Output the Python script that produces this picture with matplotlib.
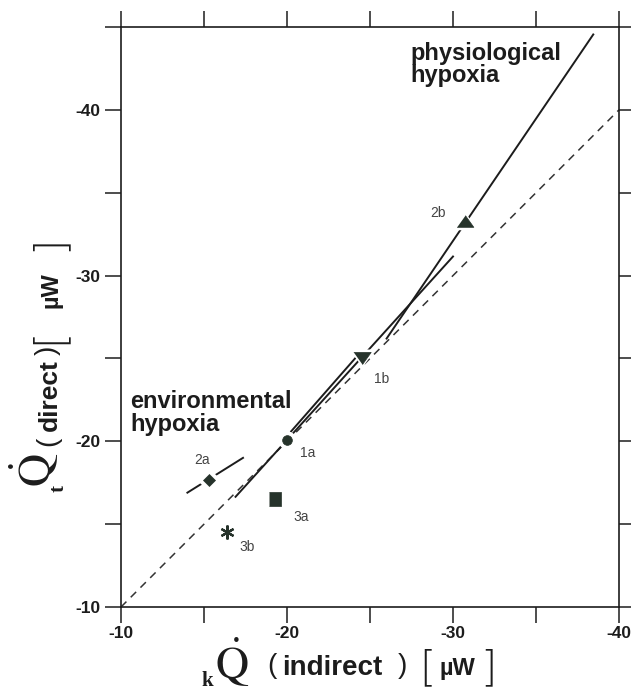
import matplotlib
matplotlib.use('Agg')
import matplotlib.pyplot as plt

W, H, DPI = 631, 691, 100

# ---------------- data ----------------
x_ticks = [-10, -15, -20, -25, -30, -35, -40]
y_ticks = [-10, -15, -20, -25, -30, -35, -40, -45]
labeled_ticks = [-10, -20, -30, -40]

identity_x = [-10, -40]
identity_y = [-10, -40]

# regression line of experiment 1 (through 1a and 1b)
line1_x = [-16.9, -30.0]
line1_y = [-16.65, -31.15]
# short segment 1a -> 1b
seg1_x = [-20.25, -24.1]
seg1_y = [-20.6, -25.0]
# physiological hypoxia line
phys_x = [-26.0, -38.45]
phys_y = [-26.2, -44.55]
# environmental hypoxia line (through 2a)
env_x = [-14.0, -17.35]
env_y = [-16.9, -19.0]

pt_names = ['1a', '1b', '2a', '2b', '3a', '3b']
pt_x = [-20.0, -24.5, -15.3, -30.7, -19.3, -16.4]
pt_y = [-20.1, -25.05, -17.65, -33.3, -16.5, -14.5]
lab_x = [-21.27, -25.7, -14.86, -29.1, -20.88, -17.57]
lab_y = [-19.28, -23.78, -18.86, -33.8, -15.44, -13.63]

# ---------------- figure ----------------
fig = plt.figure(figsize=(W / DPI, H / DPI), dpi=DPI)
fig.patch.set_facecolor('white')


def P(px, py):
    return (px / W, 1 - py / H)


l, r, t, b = 121, 619, 27, 607
ax = fig.add_axes([l / W, (H - b) / H, (r - l) / W, (b - t) / H])
ax.set_xlim(-10, -40)
ax.set_ylim(-10, -45)

ink = '#1c1c1c'
for s in ax.spines.values():
    s.set_linewidth(1.2)
    s.set_color(ink)


def fmt(v):
    return f'{v:d}' if v in labeled_ticks else ''


ax.set_xticks(x_ticks)
ax.set_yticks(y_ticks)
ax.set_xticklabels([fmt(v) for v in x_ticks])
ax.set_yticklabels([fmt(v) for v in y_ticks])
ax.tick_params(which='both', direction='out', length=11.5, width=1.1, color=ink,
               top=True, right=True, labeltop=False, labelright=False)
ax.tick_params(axis='x', pad=2)
ax.tick_params(axis='y', pad=3)
for lab in ax.get_xticklabels() + ax.get_yticklabels():
    lab.set_fontfamily('Liberation Sans')
    lab.set_fontweight('bold')
    lab.set_fontsize(12.5)
    lab.set_color(ink)

# lines
ax.plot(identity_x, identity_y, color='#333333', lw=1.1, ls=(0, (5, 4)), zorder=2)
ax.plot(line1_x, line1_y, color=ink, lw=1.4, zorder=3)
ax.plot(seg1_x, seg1_y, color=ink, lw=1.4, zorder=3)
ax.plot(phys_x, phys_y, color=ink, lw=1.4, zorder=3)
ax.plot(env_x, env_y, color=ink, lw=1.4, zorder=3)

# markers
mcol = '#26332b'
tri_up = [(-1, -0.7), (1, -0.7), (0, 0.7)]
tri_dn = [(-1, 0.7), (1, 0.7), (0, -0.7)]
rect = [(-0.42, -0.5), (0.42, -0.5), (0.42, 0.5), (-0.42, 0.5)]
styles = {
    '1a': dict(marker='o', ms=7),
    '1b': dict(marker=tri_dn, ms=12.5),
    '2a': dict(marker='D', ms=6),
    '2b': dict(marker=tri_up, ms=12),
    '3a': dict(marker=rect, ms=9.5),
    '3b': dict(marker=(6, 2, 0), ms=10),
}
for name, x, y in zip(pt_names, pt_x, pt_y):
    st = styles[name]
    if name == '3b':
        ax.plot([x], [y], linestyle='none', marker=st['marker'], ms=st['ms'],
                mec=mcol, mew=1.6, zorder=6)
        continue
    ax.plot([x], [y], linestyle='none', marker=st['marker'], ms=st['ms'] + 6,
            mfc='white', mec='white', mew=0, zorder=5)
    ax.plot([x], [y], linestyle='none', marker=st['marker'], ms=st['ms'],
            mfc=mcol, mec=mcol, mew=0.5, zorder=6)

for name, x, y in zip(pt_names, lab_x, lab_y):
    ax.text(x, y, name, ha='center', va='center', fontsize=10,
            family='Liberation Sans', color='#444444', zorder=7)

# region annotations
bold = dict(family='Liberation Sans', fontweight='bold', fontsize=17, color=ink)
ax.text(*P(410, 60), 'physiological', transform=fig.transFigure, ha='left', va='baseline', **bold)
ax.text(*P(410, 82), 'hypoxia', transform=fig.transFigure, ha='left', va='baseline', **bold)
ax.text(*P(130, 408), 'environmental', transform=fig.transFigure, ha='left', va='baseline', **bold)
ax.text(*P(130, 431), 'hypoxia', transform=fig.transFigure, ha='left', va='baseline', **bold)

# ---------------- x axis label ----------------
fig.text(*P(232, 679), r'$\dot{\mathrm{Q}}$', math_fontfamily='stix', fontsize=33,
         ha='center', va='baseline', color=ink)
fig.text(*P(207, 686), 'k', family='Liberation Serif', fontweight='bold', fontsize=15,
         ha='center', va='baseline', color=ink)
fig.text(*P(272, 673), '(', family='Liberation Sans', fontsize=20, ha='center',
         va='baseline', color=ink)
fig.text(*P(282, 675), 'indirect', family='Liberation Sans', fontweight='bold',
         fontsize=20, ha='left', va='baseline', color=ink)
fig.text(*P(402, 673), ')', family='Liberation Sans', fontsize=20, ha='center',
         va='baseline', color=ink)
fig.text(*P(427, 681), '[', family='DejaVu Sans', fontweight='light', fontsize=30,
         ha='center', va='baseline', color=ink)
fig.text(*P(457, 675), 'µW', family='Liberation Sans', fontweight='bold', fontsize=17,
         ha='center', va='baseline', color=ink)
fig.text(*P(488, 681), ']', family='DejaVu Sans', fontweight='light', fontsize=30,
         ha='center', va='baseline', color=ink)

# ---------------- y axis label (rotated) ----------------
rot = dict(rotation=90, rotation_mode='anchor')
fig.text(*P(51, 470), r'$\dot{\mathrm{Q}}$', math_fontfamily='stix', fontsize=33,
         ha='center', va='baseline', color=ink, **rot)
fig.text(*P(64, 489), 't', family='Liberation Serif', fontweight='bold', fontsize=15,
         ha='center', va='baseline', color=ink, **rot)
fig.text(*P(55, 441), '(', family='Liberation Sans', fontsize=20, ha='center',
         va='baseline', color=ink, **rot)
fig.text(*P(57, 431), 'direct', family='Liberation Sans', fontweight='bold',
         fontsize=19, ha='left', va='baseline', color=ink, **rot)
fig.text(*P(55, 350), ')', family='Liberation Sans', fontsize=20, ha='center',
         va='baseline', color=ink, **rot)
fig.text(*P(62, 336), '[', family='DejaVu Sans', fontweight='light', fontsize=30,
         ha='center', va='baseline', color=ink, **rot)
fig.text(*P(57, 290), 'µW', family='Liberation Sans', fontweight='bold', fontsize=17,
         ha='center', va='baseline', color=ink, **rot)
fig.text(*P(62, 243), ']', family='DejaVu Sans', fontweight='light', fontsize=30,
         ha='center', va='baseline', color=ink, **rot)

fig.savefig('out.png', dpi=DPI, facecolor='white')
